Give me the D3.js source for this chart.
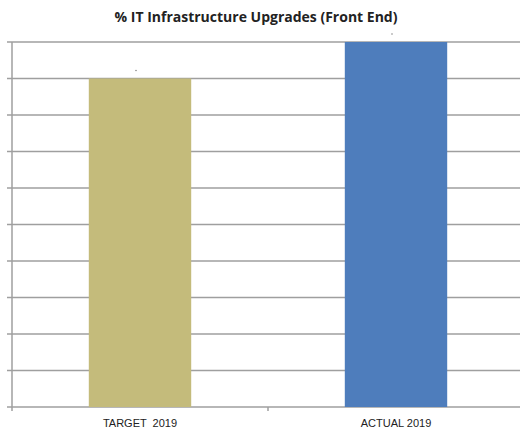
<!DOCTYPE html>
<html>
<head>
<meta charset="utf-8">
<script src="https://cdn.jsdelivr.net/npm/d3@7"></script>
<style>
  body { margin: 0; background: #fff; }
  svg { display: block; }
</style>
</head>
<body>
<svg id="chart" width="520" height="437"></svg>
<script>
// data
var categories = ["TARGET  2019", "ACTUAL 2019"];
var values = [90, 100];
var barColors = ["#c4bb7b", "#4e7dbc"];
var yTicks = [0, 10, 20, 30, 40, 50, 60, 70, 80, 90, 100];

var svg = d3.select("#chart");
var margin = {left: 12, top: 42, bottom: 407, right: 524};

var x = d3.scaleBand()
    .domain(categories)
    .range([margin.left, margin.right])
    .paddingInner(0.6)
    .paddingOuter(0.3);

var y = d3.scaleLinear()
    .domain([0, 100])
    .range([margin.bottom, margin.top]);

// gridlines + y axis
svg.append("g")
    .attr("class", "grid")
    .selectAll("line")
    .data(yTicks)
    .enter()
    .append("line")
    .attr("x1", margin.left - 5)
    .attr("x2", 520)
    .attr("y1", function (d) { return y(d); })
    .attr("y2", function (d) { return y(d); })
    .attr("stroke", "#9f9f9f")
    .attr("stroke-width", 1.5);

svg.append("line")
    .attr("x1", margin.left).attr("x2", margin.left)
    .attr("y1", y(100)).attr("y2", y(0) + 4)
    .attr("stroke", "#9f9f9f")
    .attr("stroke-width", 1.5);

// bars
svg.selectAll("rect.bar")
    .data(values)
    .enter()
    .append("rect")
    .attr("class", "bar")
    .attr("x", function (d, i) { return x(categories[i]); })
    .attr("width", x.bandwidth())
    .attr("y", function (d) { return y(d); })
    .attr("height", function (d) { return y(0) - y(d); })
    .attr("fill", function (d, i) { return barColors[i]; });

// faint remains of data labels above the bars
svg.selectAll("circle.lbl")
    .data(values)
    .enter()
    .append("circle")
    .attr("class", "lbl")
    .attr("cx", function (d, i) { return x(categories[i]) + x.bandwidth() / 2 - 4; })
    .attr("cy", function (d) { return y(d) - 8; })
    .attr("r", 0.8)
    .attr("fill", "#888");

// x axis
var xAxis = d3.axisBottom(x).tickSize(0).tickPadding(12);
var gx = svg.append("g")
    .attr("transform", "translate(0," + y(0) + ")")
    .call(xAxis);
gx.select(".domain").remove();
gx.selectAll("text")
    .attr("font-family", "Liberation Sans, Arial, sans-serif")
    .attr("font-size", 11)
    .attr("fill", "#222")
    .style("white-space", "pre");

// category divider tick
svg.append("line")
    .attr("x1", x.step() + margin.left).attr("x2", x.step() + margin.left)
    .attr("y1", y(0)).attr("y2", y(0) + 4)
    .attr("stroke", "#9f9f9f")
    .attr("stroke-width", 1.5);

// title
svg.append("text")
    .attr("x", 256)
    .attr("y", 22)
    .attr("text-anchor", "middle")
    .attr("font-family", "Open Sans, Lato, sans-serif")
    .attr("font-weight", "bold")
    .attr("font-size", 14)
    .attr("fill", "#222")
    .text("% IT Infrastructure Upgrades (Front End)");
</script>
</body>
</html>
